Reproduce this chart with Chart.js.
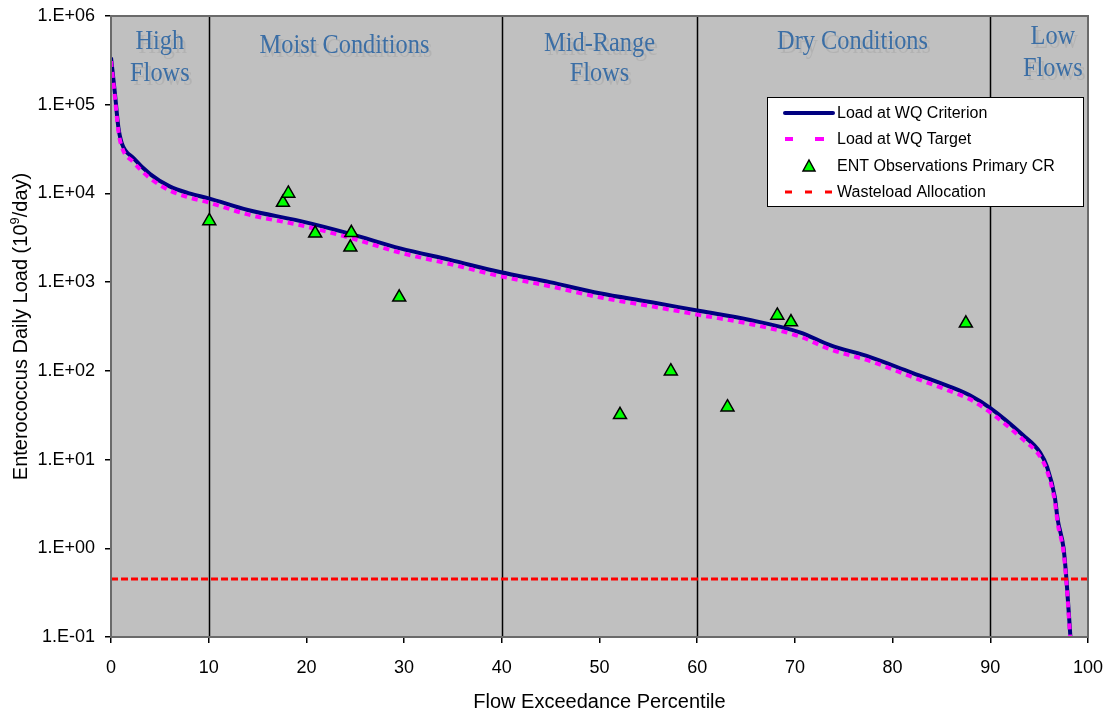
<!DOCTYPE html>
<html>
<head>
<meta charset="utf-8">
<script src="https://cdn.jsdelivr.net/npm/chart.js@4"></script>
<style>
  body { margin: 0; background: #fff; }
  canvas { display: block; }
</style>
</head>
<body>
<canvas id="loadChart" width="1109" height="711"></canvas>
<script>
// Load duration curve data
const flowPct = [0, 0.4, 0.75, 1.1, 2.3, 4, 6, 8, 10, 14, 19.3, 24.5, 29.6, 34.7, 39.8, 44.9, 50, 55.2, 60.3, 65.4, 70.5, 73.6, 77.7, 81.8, 85.9, 87.9, 90, 93.3, 95.1, 95.8, 96.6, 96.9, 97.5, 97.8, 98.2, 98.4];
const criterionLoad = [3.4e5, 1.35e5, 5.6e4, 3.7e4, 2.5e4, 1.65e4, 1.2e4, 1.0e4, 8.8e3, 6.5e3, 4.9e3, 3.5e3, 2.4e3, 1.78e3, 1.3e3, 1.0e3, 750, 597, 472, 375, 272, 195, 143, 97, 66, 53, 38, 19, 12, 8.3, 3.8, 2.1, 1.0, 0.44, 0.1, 0.05];
const targetLoad = [3.1e5, 1.22e5, 5.1e4, 3.35e4, 2.25e4, 1.48e4, 1.08e4, 9.0e3, 7.9e3, 5.8e3, 4.4e3, 3.15e3, 2.15e3, 1.6e3, 1.17e3, 900, 675, 537, 425, 338, 244, 175, 129, 87, 59, 48, 34, 17, 10.8, 7.5, 3.4, 1.9, 0.9, 0.4, 0.09, 0.045];

// ENT observations
const obsPct = [10.06, 17.6, 18.15, 20.9, 24.6, 24.5, 29.5, 52.1, 57.3, 63.1, 68.2, 69.6, 87.5];
const obsLoad = [4.9e3, 7.9e3, 1.0e4, 3.55e3, 3.6e3, 2.47e3, 675, 32, 99, 39, 422, 355, 343];

const wasteload = 0.45;

// Flow zones
const zoneBreaks = [10, 40, 60, 90];
const zoneNames = [["High", "Flows"], ["Moist Conditions"], ["Mid-Range", "Flows"], ["Dry Conditions"], ["Low", "Flows"]];
const zoneCenters = [5, 23.9, 50, 75.9, 96.4];

const yTicks = [0.1, 1, 10, 100, 1e3, 1e4, 1e5, 1e6];
const xTicks = [0, 10, 20, 30, 40, 50, 60, 70, 80, 90, 100];

const legendItems = ["Load at WQ Criterion", "Load at WQ Target", "ENT Observations Primary CR", "Wasteload Allocation"];

const toXY = (xs, ys) => xs.map((x, i) => ({ x: x, y: ys[i] }));

function sciLabel(v) {
  const e = Math.round(Math.log10(v));
  const sign = e < 0 ? '-' : '+';
  return '1.E' + sign + String(Math.abs(e)).padStart(2, '0');
}

// keep the plot area where the layout padding says, not pushed in by the tick labels
function noLabelPadding(s) {
  s.paddingTop = 0; s.paddingBottom = 0; s.paddingLeft = 0; s.paddingRight = 0;
}

Chart.defaults.font.family = '"Liberation Sans", Arial, sans-serif';
Chart.defaults.color = '#000';

// gray plot area, zone lines and zone labels
const zonePlugin = {
  id: 'zones',
  beforeDatasetsDraw(chart) {
    const { ctx, chartArea: a, scales: { x } } = chart;
    ctx.save();
    ctx.strokeStyle = '#000';
    ctx.lineWidth = 1.5;
    zoneBreaks.forEach(b => {
      const px = Math.round(x.getPixelForValue(b)) + 0.5;
      ctx.beginPath();
      ctx.moveTo(px, a.top);
      ctx.lineTo(px, a.bottom);
      ctx.stroke();
    });
    ctx.font = '28px "Liberation Serif", "Times New Roman", serif';
    ctx.textAlign = 'center';
    ctx.textBaseline = 'alphabetic';
    const baselines = [[49, 81], [53], [51, 81], [49], [44, 76]];
    zoneNames.forEach((lines, i) => {
      const cx = x.getPixelForValue(zoneCenters[i]);
      lines.forEach((t, j) => {
        ctx.save();
        ctx.translate(cx, baselines[i][j]);
        ctx.scale(0.87, 1);
        ctx.shadowColor = 'rgba(0,0,0,0.07)';
        ctx.shadowOffsetX = 3;
        ctx.shadowOffsetY = 4;
        ctx.shadowBlur = 0;
        ctx.fillStyle = '#3b6ea5';
        ctx.fillText(t, 0, 0);
        ctx.restore();
      });
    });
    ctx.restore();
  },
  beforeDraw(chart) {
    const { ctx, chartArea: a } = chart;
    ctx.save();
    ctx.fillStyle = '#fff';
    ctx.fillRect(0, 0, chart.width, chart.height);
    ctx.fillStyle = '#c0c0c0';
    ctx.fillRect(a.left, a.top, a.right - a.left, a.bottom - a.top);
    ctx.restore();
  },
  afterDraw(chart) {
    const { ctx, chartArea: a } = chart;
    ctx.save();
    // plot border
    ctx.strokeStyle = '#6a6a6a';
    ctx.lineWidth = 2;
    ctx.strokeRect(a.left, a.top, a.right - a.left, a.bottom - a.top);

    // axis titles
    ctx.fillStyle = '#000';
    ctx.font = '20px "Liberation Sans", Arial, sans-serif';
    ctx.textAlign = 'center';
    ctx.textBaseline = 'alphabetic';
    ctx.fillText('Flow Exceedance Percentile', (a.left + a.right) / 2, 708);

    ctx.save();
    ctx.translate(27, (a.top + a.bottom) / 2);
    ctx.rotate(-Math.PI / 2);
    const p1 = 'Enterococcus Daily Load (10', sup = '9', p2 = '/day)';
    ctx.font = '20px "Liberation Sans", Arial, sans-serif';
    const w1 = ctx.measureText(p1).width, w3 = ctx.measureText(p2).width;
    ctx.font = '13px "Liberation Sans", Arial, sans-serif';
    const w2 = ctx.measureText(sup).width;
    let sx = -(w1 + w2 + w3) / 2;
    ctx.textAlign = 'left';
    ctx.font = '20px "Liberation Sans", Arial, sans-serif';
    ctx.fillText(p1, sx, 0);
    ctx.font = '13px "Liberation Sans", Arial, sans-serif';
    ctx.fillText(sup, sx + w1, -8);
    ctx.font = '20px "Liberation Sans", Arial, sans-serif';
    ctx.fillText(p2, sx + w1 + w2, 0);
    ctx.restore();

    // legend box
    const lx = 767, ly = 97, lw = 316, lh = 109;
    ctx.fillStyle = '#fff';
    ctx.fillRect(lx, ly, lw, lh);
    ctx.strokeStyle = '#000';
    ctx.lineWidth = 1;
    ctx.strokeRect(lx + 0.5, ly + 0.5, lw, lh);
    const rows = [113, 139, 166, 192];
    ctx.font = '16px "Liberation Sans", Arial, sans-serif';
    ctx.textBaseline = 'middle';
    ctx.textAlign = 'left';
    legendItems.forEach((t, i) => {
      const ry = rows[i];
      if (i === 0) {
        ctx.strokeStyle = '#000080'; ctx.lineWidth = 4; ctx.lineCap = 'round';
        ctx.beginPath(); ctx.moveTo(785, ry); ctx.lineTo(833, ry); ctx.stroke();
        ctx.lineCap = 'butt';
      } else if (i === 1) {
        ctx.fillStyle = '#ff00ff';
        ctx.fillRect(785, ry - 2, 8, 4);
        ctx.fillRect(815, ry - 2, 9, 4);
      } else if (i === 2) {
        ctx.fillStyle = '#00ff00'; ctx.strokeStyle = '#000'; ctx.lineWidth = 1.5;
        ctx.beginPath(); ctx.moveTo(809, ry - 6); ctx.lineTo(815, ry + 5); ctx.lineTo(803, ry + 5); ctx.closePath();
        ctx.fill(); ctx.stroke();
      } else {
        ctx.fillStyle = '#ff0000';
        [785, 805, 825].forEach(dx => ctx.fillRect(dx, ry - 1.5, 7, 3));
      }
      ctx.fillStyle = '#000';
      ctx.fillText(t, 837, ry + 1);
    });
    ctx.restore();
  }
};

const ctx = document.getElementById('loadChart').getContext('2d');
const loadChart = new Chart(ctx, {
  type: 'scatter',
  data: {
    datasets: [
      {
        label: legendItems[0],
        data: toXY(flowPct, criterionLoad),
        showLine: true,
        borderColor: '#000080',
        borderWidth: 4,
        pointRadius: 0,
        cubicInterpolationMode: 'monotone',
        order: 4
      },
      {
        label: legendItems[1],
        data: toXY(flowPct, targetLoad),
        showLine: true,
        borderColor: '#ff00ff',
        borderWidth: 4,
        borderDash: [6, 5],
        pointRadius: 0,
        cubicInterpolationMode: 'monotone',
        order: 3
      },
      {
        label: legendItems[2],
        data: toXY(obsPct, obsLoad),
        pointStyle: 'triangle',
        pointRadius: 7.5,
        backgroundColor: '#00ff00',
        borderColor: '#000',
        borderWidth: 1.5,
        order: 2
      },
      {
        label: legendItems[3],
        data: [{ x: 0, y: wasteload }, { x: 100, y: wasteload }],
        showLine: true,
        borderColor: '#ff0000',
        borderWidth: 3,
        borderDash: [7, 3],
        pointRadius: 0,
        order: 1
      }
    ]
  },
  options: {
    responsive: false,
    animation: false,
    layout: { autoPadding: false, padding: { top: 16, right: 21, left: 0, bottom: 0 } },
    plugins: { legend: { display: false }, tooltip: { enabled: false } },
    scales: {
      x: {
        type: 'linear',
        min: 0,
        max: 100,
        afterBuildTicks: s => { s.ticks = xTicks.map(v => ({ value: v })); },
        afterFit: s => { s.height = 74; noLabelPadding(s); },
        grid: { drawOnChartArea: false, tickLength: 6, color: '#000', lineWidth: 1.5 },
        border: { display: false },
        ticks: { font: { size: 18 }, padding: 14, maxRotation: 0, color: '#000' }
      },
      y: {
        type: 'logarithmic',
        min: 0.1,
        max: 1e6,
        afterBuildTicks: s => { s.ticks = yTicks.map(v => ({ value: v })); },
        afterFit: s => { s.width = 111; noLabelPadding(s); },
        grid: { drawOnChartArea: false, tickLength: 6, color: '#000', lineWidth: 1.5 },
        border: { display: false },
        ticks: { font: { size: 18 }, padding: 10, color: '#000', callback: v => sciLabel(v) }
      }
    }
  },
  plugins: [zonePlugin]
});
</script>
</body>
</html>
